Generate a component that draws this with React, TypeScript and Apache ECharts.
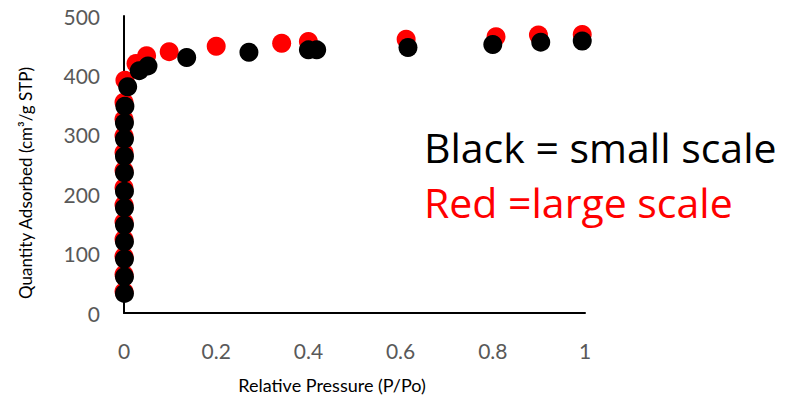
import React, { useEffect, useRef } from "react";
import * as echarts from "echarts";

const blackSmallScale: [number, number][] = [
  [0.001, 33], [0.001, 61], [0.001, 91], [0.001, 120], [0.001, 148], [0.001, 177],
  [0.001, 205], [0.001, 236], [0.001, 264], [0.001, 293], [0.001, 320], [0.002, 348],
  [0.008, 381], [0.033, 408], [0.052, 416], [0.136, 430], [0.271, 439], [0.40, 443],
  [0.418, 443], [0.616, 447], [0.80, 452], [0.904, 456], [0.994, 458],
];

const redLargeScale: [number, number][] = [
  [0, 36], [0, 65], [0, 95], [0, 124], [0, 153], [0, 182],
  [0, 211], [0, 240], [0, 270], [0, 298], [0, 326], [0, 355],
  [0.002, 392], [0.026, 420], [0.049, 433], [0.098, 440], [0.2, 449], [0.342, 454],
  [0.40, 457], [0.612, 461], [0.807, 465], [0.899, 468], [0.994, 469],
];

const xTitle = "Relative Pressure (P/Po)";
const yTitle = "Quantity Adsorbed (cm³/g STP)";
const noteBlack = "Black = small scale";
const noteRed = "Red =large scale";

const FONT = "Lato";
const NOTE_FONT = "Open Sans";

export default function App() {
  const ref = useRef<HTMLDivElement>(null);
  useEffect(() => {
    if (!ref.current) return;
    const chart = echarts.init(ref.current, undefined, { renderer: "svg" });
    chart.setOption({
      animation: false,
      backgroundColor: "#ffffff",
      grid: {
        left: 124,
        top: 16,
        width: 461,
        height: 297,
        containLabel: false,
        outerBoundsMode: "none",
      },
      xAxis: {
        type: "value",
        min: 0,
        max: 1,
        interval: 0.2,
        name: xTitle,
        nameLocation: "middle",
        nameGap: 63,
        nameTextStyle: {
          fontFamily: FONT,
          fontSize: 18,
          color: "#000000",
          padding: [0, 45, 0, 0],
        },
        axisLine: { show: true, onZero: false, lineStyle: { color: "#000000", width: 2 } },
        axisTick: { show: false },
        splitLine: { show: false },
        axisLabel: {
          fontFamily: FONT,
          fontSize: 21,
          color: "#595959",
          margin: 27,
          formatter: (v: number) => String(Math.round(v * 10) / 10),
        },
      },
      yAxis: {
        type: "value",
        min: 0,
        max: 500,
        interval: 100,
        name: yTitle,
        nameLocation: "middle",
        nameGap: 90,
        nameRotate: 90,
        nameTextStyle: {
          fontFamily: FONT,
          fontSize: 17,
          color: "#000000",
          padding: [0, 37, 0, 0],
        },
        axisLine: { show: true, onZero: false, lineStyle: { color: "#000000", width: 2 } },
        axisTick: { show: false },
        splitLine: { show: false },
        axisLabel: { fontFamily: FONT, fontSize: 21, color: "#595959", margin: 24 },
      },
      series: [
        {
          name: "Red",
          type: "scatter",
          data: redLargeScale,
          symbol: "circle",
          symbolSize: 19,
          itemStyle: { color: "#ff0000", opacity: 1 },
          z: 2,
        },
        {
          name: "Black",
          type: "scatter",
          data: blackSmallScale,
          symbol: "circle",
          symbolSize: 19,
          itemStyle: { color: "#000000", opacity: 1 },
          z: 3,
        },
      ],
      graphic: [
        {
          type: "text",
          left: 424,
          top: 126,
          style: { text: noteBlack, fontFamily: NOTE_FONT, fontSize: 41, fill: "#000000" },
        },
        {
          type: "text",
          left: 424,
          top: 181,
          style: { text: noteRed, fontFamily: NOTE_FONT, fontSize: 41, fill: "#ff0000" },
        },
      ],
    });
    return () => chart.dispose();
  }, []);
  return (
    <div
      ref={ref}
      style={{ position: "absolute", left: 0, top: 0, width: 788, height: 396 }}
    />
  );
}
